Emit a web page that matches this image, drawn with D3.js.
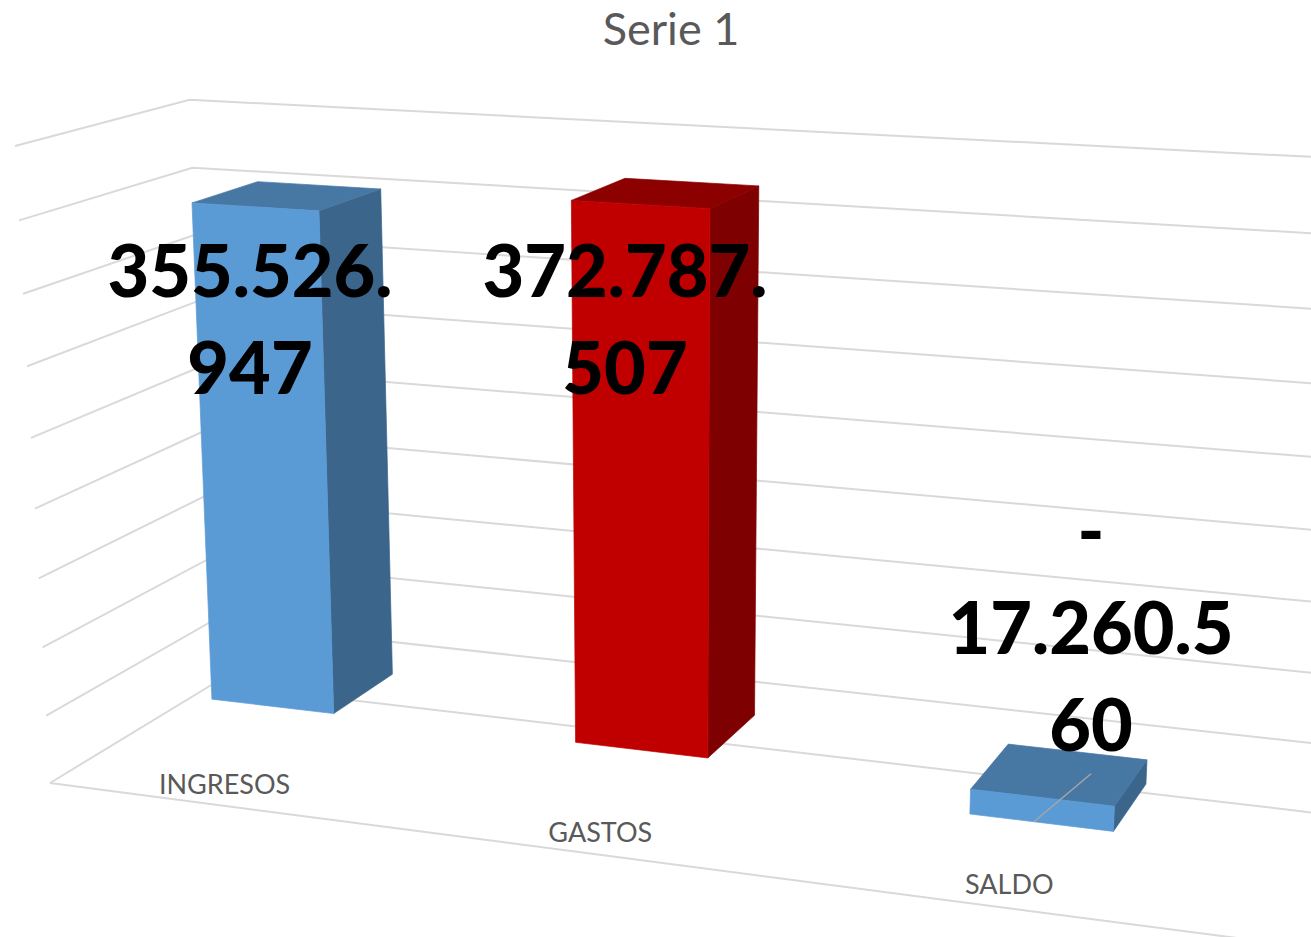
<!DOCTYPE html>
<html>
<head>
<meta charset="utf-8">
<script src="https://cdn.jsdelivr.net/npm/d3@7"></script>
<style>
    html, body { margin: 0; padding: 0; background: #fff; }
    svg { display: block; }
    text { font-family: Lato, "Open Sans", sans-serif; }
</style>
</head>
<body>
<div id="chart"></div>
<script>
const chartTitle = "Serie 1";
const categories = ["INGRESOS", "GASTOS", "SALDO"];
const values = [355526947, 372787507, -17260560];
const dataLabels = [["355.526.", "947"], ["372.787.", "507"], ["-", "17.260.5", "60"]];
const axisTicks = [-50e6, 0, 50e6, 100e6, 150e6, 200e6, 250e6, 300e6, 350e6, 400e6];

const frontColors = ["#5B9BD5", "#C00000", "#5B9BD5"];
const sideColors = ["#3B658B", "#7F0000", "#3B658B"];
const topColors = ["#4777A3", "#8C0000", "#4777A3"];

// where the first line of each data label sits, picture coordinates
const labelAnchors = [[250, 297], [625, 297], [1091, 557]];
const labelLineHeight = 97;

const width = 1311, height = 937;

const svg = d3.select("#chart").append("svg")
        .attr("width", width)
        .attr("height", height);

// Perspective box: unit cube (u across, v up, w into the page) to screen.
// Given as the picture of 4 corners plus the depth terms of the 3 axes.
const origin = [50, 783], cornerU = [1260, 941], cornerV = [15, 146], cornerW = [213, 684];
const persp = {u: -0.1226, v: -0.054, w: 0.0947};
const axisU = [0, 1].map(i => (1 + persp.u) * cornerU[i] - origin[i]);
const axisV = [0, 1].map(i => (1 + persp.v) * cornerV[i] - origin[i]);
const axisW = [0, 1].map(i => (1 + persp.w) * cornerW[i] - origin[i]);

function project(u, v, w) {
    let d = 1 + persp.u * u + persp.v * v + persp.w * w;
    return [0, 1].map(i => (origin[i] + axisU[i] * u + axisV[i] * v + axisW[i] * w) / d);
}

const xScale = d3.scaleBand().domain(categories).range([0.002, 0.976]).paddingInner(0.656).paddingOuter(0.322);
const yScale = d3.scaleLinear().domain([axisTicks[0], axisTicks[axisTicks.length - 1]]).range([0, 1]);
const depthFront = 0.3, depthBack = 0.7;

const line = d3.line();
const poly = pts => line(pts) + "Z";

// gridlines run along the side wall and then along the back wall
svg.append("g").selectAll("path")
        .data(axisTicks)
        .enter().append("path")
        .attr("d", d => line([project(0, yScale(d), 0), project(0, yScale(d), 1), project(1, yScale(d), 1)]))
        .attr("fill", "none")
        .attr("stroke", "#D9D9D9")
        .attr("stroke-width", 2);

svg.append("path")
        .attr("d", line([project(0, 0, 0), project(1, 0, 0)]))
        .attr("fill", "none")
        .attr("stroke", "#D9D9D9")
        .attr("stroke-width", 2);

let barData = categories.map((name, i) => {
    let u0 = xScale(name), u1 = u0 + xScale.bandwidth();
    let hi = yScale(Math.max(values[i], 0)), lo = yScale(Math.min(values[i], 0));
    return {
        i: i,
        front: poly([project(u0, hi, depthFront), project(u1, hi, depthFront), project(u1, lo, depthFront), project(u0, lo, depthFront)]),
        side: poly([project(u1, hi, depthFront), project(u1, hi, depthBack), project(u1, lo, depthBack), project(u1, lo, depthFront)]),
        top: poly([project(u0, hi, depthFront), project(u0, hi, depthBack), project(u1, hi, depthBack), project(u1, hi, depthFront)])
    };
});

let bars = svg.append("g").selectAll("g")
        .data(barData)
        .enter().append("g");
// stroke in the face colour closes the seams between faces
bars.append("path").attr("d", d => d.side).attr("fill", d => sideColors[d.i]).attr("stroke", d => sideColors[d.i]).attr("stroke-width", 0.7);
bars.append("path").attr("d", d => d.top).attr("fill", d => topColors[d.i]).attr("stroke", d => topColors[d.i]).attr("stroke-width", 0.7);
bars.append("path").attr("d", d => d.front).attr("fill", d => frontColors[d.i]).attr("stroke", d => frontColors[d.i]).attr("stroke-width", 0.7);

// leader line of the SALDO label
let saldoFoot = project(xScale("SALDO") + xScale.bandwidth() * 0.45, yScale(values[2]), depthFront);
svg.append("path")
        .attr("d", line([saldoFoot, [labelAnchors[2][0], saldoFoot[1] - 48]]))
        .attr("fill", "none")
        .attr("stroke", "#A6A6A6")
        .attr("stroke-width", 1.5);

svg.append("text")
        .attr("x", 671)
        .attr("y", 45)
        .attr("text-anchor", "middle")
        .attr("font-size", 45)
        .attr("fill", "#595959")
        .text(chartTitle);

svg.append("g").selectAll("text")
        .data(categories)
        .enter().append("text")
        .attr("x", d => project(xScale(d) + xScale.bandwidth() / 2, 0, 0)[0] - 2)
        .attr("y", d => project(xScale(d) + xScale.bandwidth() / 2, 0, 0.11)[1])
        .attr("text-anchor", "middle")
        .attr("font-size", 27)
        .attr("fill", "#595959")
        .text(d => d);

let labelGroups = svg.append("g").selectAll("text")
        .data(dataLabels)
        .enter().append("text")
        .attr("text-anchor", "middle")
        .attr("font-size", 72)
        .attr("font-weight", 900)
        .attr("fill", "#000");
labelGroups.selectAll("tspan")
        .data((d, i) => d.map((t, k) => ({t: t, x: labelAnchors[i][0], y: labelAnchors[i][1] + k * labelLineHeight})))
        .enter().append("tspan")
        .attr("x", d => d.x)
        .attr("y", d => d.y)
        .text(d => d.t);
</script>
</body>
</html>
